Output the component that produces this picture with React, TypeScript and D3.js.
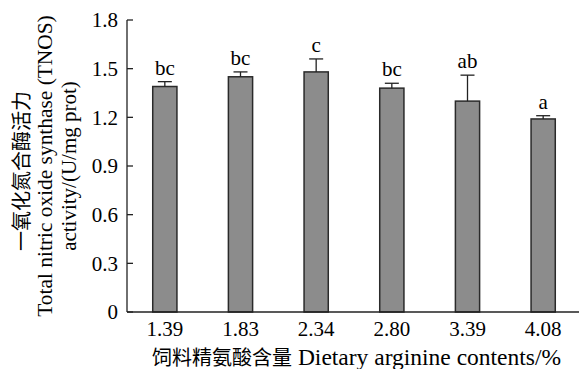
import React from "react";
import * as d3 from "d3";

const categories = ["1.39", "1.83", "2.34", "2.80", "3.39", "4.08"];
const values = [1.39, 1.45, 1.48, 1.38, 1.30, 1.19];
const errors = [0.03, 0.03, 0.08, 0.03, 0.16, 0.02];
const letters = ["bc", "bc", "c", "bc", "ab", "a"];
const yTicks = [0, 0.3, 0.6, 0.9, 1.2, 1.5, 1.8];
const yTitleLines = ["一氧化氮合酶活力", "Total nitric oxide synthase (TNOS)", "activity/(U/mg prot)"];
const xTitleZh = "饲料精氨酸含量";
const xTitleEn = " Dietary arginine contents/%";

const W = 579, H = 369;
const left = 127, right = 581, top = 20, bottom = 312;
const font = "'Liberation Serif', 'Times New Roman', 'Noto Sans CJK SC', serif";

export default function App() {
  const x = d3.scaleBand<string>().domain(categories).range([left, right]).paddingInner(0.68).paddingOuter(0.34);
  const y = d3.scaleLinear().domain([0, 1.8]).range([bottom, top]);
  const fmt = (v: number) => (v === 0 ? "0" : v.toFixed(1));
  const yTitleX = [22, 44, 69];
  const yTitleY = [171, 166, 166];
  const yTitleSize = [20, 21.4, 21];
  return (
    <svg width={W} height={H} style={{ position: "absolute", left: 0, top: 0, background: "#fff" }} fontFamily={font}>
      {categories.map((c, i) => {
        const bx = x(c)!;
        const bw = x.bandwidth();
        const cx = bx + bw / 2;
        const yt = y(values[i]);
        const ye = y(values[i] + errors[i]);
        return (
          <g key={c}>
            <rect x={bx} y={yt} width={bw} height={bottom - yt} fill="#8c8c8c" stroke="#2a2a2a" strokeWidth={1.5} />
            <line x1={cx} x2={cx} y1={yt} y2={ye} stroke="#222" strokeWidth={1.3} />
            <line x1={cx - 7} x2={cx + 7} y1={ye} y2={ye} stroke="#222" strokeWidth={1.3} />
            <text x={cx} y={ye - 7} textAnchor="middle" fontSize={21} fill="#000">{letters[i]}</text>
            <text x={cx} y={bottom + 24} textAnchor="middle" fontSize={21} fill="#000">{c}</text>
          </g>
        );
      })}
      <line x1={left} x2={left} y1={top} y2={bottom} stroke="#222" strokeWidth={1.3} />
      <line x1={left} x2={W} y1={bottom} y2={bottom} stroke="#222" strokeWidth={1.3} />
      {yTicks.map((t) => (
        <g key={t}>
          <line x1={left} x2={left + 6} y1={y(t)} y2={y(t)} stroke="#222" strokeWidth={1.3} />
          <text x={118} y={y(t)} dy="0.35em" textAnchor="end" fontSize={21} fill="#000">{fmt(t)}</text>
        </g>
      ))}
      {yTitleLines.map((s, i) => (
        <text key={i} transform={`translate(${yTitleX[i]},${yTitleY[i]}) rotate(-90)`} dy="0.35em" textAnchor="middle" fontSize={yTitleSize[i]} fill="#000">{s}</text>
      ))}
      <text x={152} y={365} textAnchor="start" fill="#000">
        <tspan fontSize={20}>{xTitleZh}</tspan>
        <tspan fontSize={23.5}>{xTitleEn}</tspan>
      </text>
    </svg>
  );
}
